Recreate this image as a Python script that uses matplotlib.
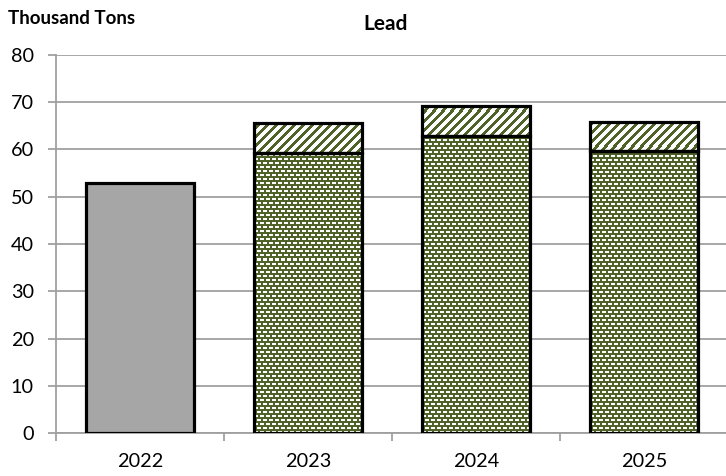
import numpy as np
import matplotlib
matplotlib.use("Agg")
import matplotlib.pyplot as plt

# Data (thousand tons)
years = ["2022", "2023", "2024", "2025"]
base_values = [53.0, 59.3, 62.8, 59.6]      # solid / dotted segment
upper_values = [0.0, 6.3, 6.5, 6.2]         # striped top segment
base_is_actual = [True, False, False, False]

GREEN = "#4f6228"
GRAY = "#a6a6a6"
GRID = "#a0a0a0"

plt.rcParams["font.family"] = ["Lato", "DejaVu Sans"]

W, H = 726, 476
fig = plt.figure(figsize=(W / 100, H / 100), dpi=100)
ax_left, ax_right, ax_top, ax_bottom = 56, 726, 55, 433
ax = fig.add_axes([ax_left / W, (H - ax_bottom) / H,
                   (ax_right - ax_left) / W, (ax_bottom - ax_top) / H])

x = np.arange(len(years))
xlim = (-0.5, -0.5 + (ax_right - ax_left) / 168.0)
ylim = (0, 80)
ax.set_xlim(*xlim)
ax.set_ylim(*ylim)

# pixel textures covering the whole axes
pw, ph = ax_right - ax_left, ax_bottom - ax_top
rows, cols = np.mgrid[0:ph, 0:pw]
green_rgb = np.array(matplotlib.colors.to_rgb(GREEN))

# green with staggered short white dashes
shift = np.where((rows // 4) % 2 == 0, 0, 3)
dash = ((rows % 4) < 2) & (((cols + shift) % 6) < 4)
dots_img = np.where(dash[..., None], 1.0, green_rgb[None, None, :])

# white with green diagonal stripes
stripe = ((rows + cols) % 9) < 4
stripe_img = np.where(stripe[..., None], green_rgb[None, None, :], 1.0)

width = 0.64
for i in range(len(years)):
    b = base_values[i]
    u = upper_values[i]
    if base_is_actual[i]:
        ax.bar(x[i], b, width, color=GRAY, edgecolor="black",
               linewidth=2.3, zorder=3)
    else:
        clip = ax.bar(x[i], b, width, color="none", linewidth=0, zorder=2)[0]
        im = ax.imshow(dots_img, extent=(*xlim, *ylim), origin="upper",
                       aspect="auto", interpolation="nearest", zorder=2.5)
        im.set_clip_path(clip)
        ax.bar(x[i], b, width, color="none", edgecolor="black",
               linewidth=2.3, zorder=3)
    if u > 0:
        clip = ax.bar(x[i], u, width, bottom=b, color="none",
                      linewidth=0, zorder=2)[0]
        im = ax.imshow(stripe_img, extent=(*xlim, *ylim), origin="upper",
                       aspect="auto", interpolation="nearest", zorder=2.5)
        im.set_clip_path(clip)
        ax.bar(x[i], u, width, bottom=b, color="none", edgecolor="black",
               linewidth=2.3, zorder=3)

ax.set_xlim(*xlim)
ax.set_ylim(*ylim)

# axes styling
ax.set_yticks(np.arange(0, 81, 10))
ax.yaxis.grid(True, color=GRID, linewidth=1.3, zorder=0)
ax.set_axisbelow(True)
for s in ["top", "right"]:
    ax.spines[s].set_visible(False)
for s in ["left", "bottom"]:
    ax.spines[s].set_color(GRID)
    ax.spines[s].set_linewidth(1.3)

ax.set_xticks(np.arange(len(years)) - 0.5)
ax.set_xticklabels([])
ax.set_xticks(x, minor=True)
ax.set_xticklabels(years, minor=True)
ax.tick_params(axis="x", which="major", length=6, width=1.3, color=GRID,
               direction="out")
ax.tick_params(axis="x", which="minor", length=0, pad=14.5, labelsize=14.3)
ax.tick_params(axis="y", length=5.5, width=1.3, color=GRID, direction="out",
               labelsize=14.3, pad=10.5)

fig.text(386 / W, 1 - 24 / H, "Lead", ha="center", va="center",
         fontsize=15, fontweight="bold")
fig.text(8 / W, 1 - 18 / H, "Thousand Tons", ha="left", va="center",
         fontsize=13.5, fontweight="bold")

fig.savefig("out.png", dpi=100)
